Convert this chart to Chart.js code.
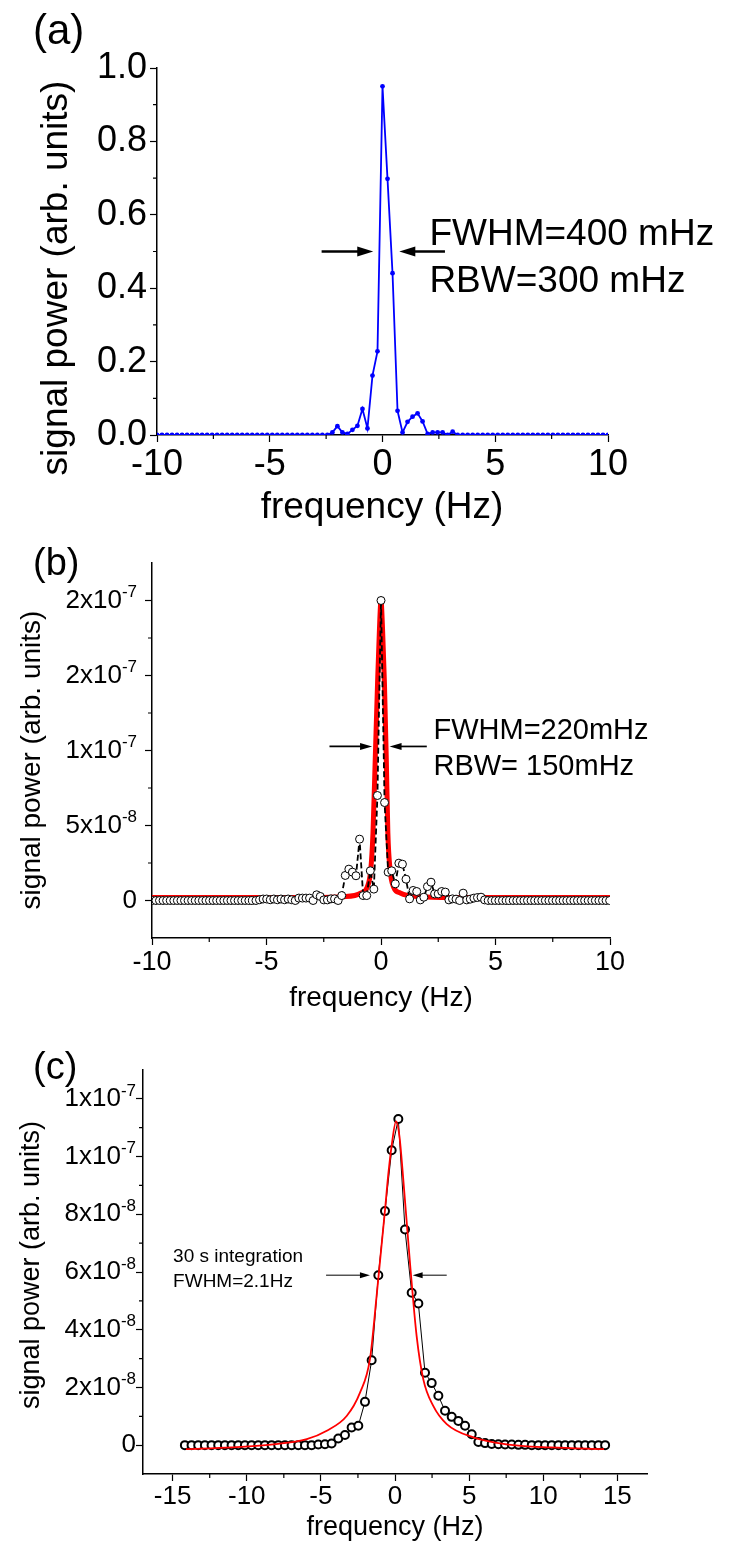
<!DOCTYPE html>
<html>
<head>
<meta charset="utf-8">
<script src="https://cdn.jsdelivr.net/npm/chart.js@4.4.0/dist/chart.umd.min.js"></script>
<style>
  html, body { margin: 0; padding: 0; background: #fff; }
  .panel { position: absolute; left: 0; width: 731px; }
  #panelA { top: 0;      height: 530px; }
  #panelB { top: 530px;  height: 500px; }
  #panelC { top: 1030px; height: 516px; }
</style>
</head>
<body>
<div class="panel" id="panelA"><canvas id="chartA"></canvas></div>
<div class="panel" id="panelB"><canvas id="chartB"></canvas></div>
<div class="panel" id="panelC"><canvas id="chartC"></canvas></div>

<script>
// ── DATA ──

// (a) spectrum, 91 bins from -10 Hz to 10 Hz
const FREQ_A_START = -10;
const FREQ_A_STEP  = 20 / 90;
const POWER_A = [
  0, 0, 0, 0, 0, 0, 0, 0, 0, 0,
  0, 0, 0, 0, 0, 0, 0, 0, 0, 0,
  0, 0, 0, 0, 0, 0, 0, 0, 0, 0,
  0, 0, 0, 0, 0,
  0.007, 0.024, 0.007, 0.003, 0.014, 0.025, 0.071, 0.018, 0.162, 0.228,
  0.950,
  0.698, 0.441, 0.066, 0.007, 0.036, 0.050, 0.059, 0.037, 0.003, 0.007,
  0.007, 0.007, 0, 0.009, 0,
  0, 0, 0, 0, 0, 0, 0, 0, 0, 0,
  0, 0, 0, 0, 0, 0, 0, 0, 0, 0,
  0, 0, 0, 0, 0, 0, 0, 0, 0, 0
];
const X_TICKS_A = [-10, -5, 0, 5, 10];
const X_MINOR_A = [-7.5, -2.5, 2.5, 7.5];
const Y_TICKS_A = [0, 0.2, 0.4, 0.6, 0.8, 1.0];
const Y_MINOR_A = [0.1, 0.3, 0.5, 0.7, 0.9];

// (b) spectrum, 129 bins, values in units of 1e-8
const FREQ_B_START = -9.984;
const FREQ_B_STEP  = 0.156;
const POWER_B = [
  0, 0, 0, 0, 0, 0, 0, 0, 0, 0,
  0, 0, 0, 0, 0, 0, 0, 0, 0, 0,
  0, 0, 0, 0, 0, 0, 0, 0, 0, 0,
  0.05, 0.1, 0.1, 0.05, 0.1, 0.05, 0.1, 0.05, 0.1, 0.05,
  0, 0.16, 0.16, 0.16, 0.16, 0, 0.38, 0.27, 0.04, 0.04,
  0.11, 0.11, 0, 0.33, 1.67, 2.09, 1.89, 1.65, 4.09, 0.33,
  0.33, 1.98, 0.76, 7.0,
  20.0,
  6.53, 1.89, 1.98, 1.11, 2.49, 2.42, 1.42, 0.11, 0.67, 0.60,
  0.04, 0.22, 0.93, 1.22, 0.44, 0.44, 0.60, 0.56, 0.04, 0.11,
  0.09, 0, 0.49, 0.04, 0.09, 0.16, 0.20, 0.22, 0.04,
  0, 0, 0, 0, 0, 0, 0, 0, 0, 0,
  0, 0, 0, 0, 0, 0, 0, 0, 0, 0,
  0, 0, 0, 0, 0, 0, 0, 0, 0, 0,
  0, 0, 0, 0, 0
];
const FIT_B_FREQ  = [-10, -3, -1.63, -0.87, -0.6, -0.45, -0.35, -0.25, -0.15, -0.07, 0, 0.07, 0.15, 0.23, 0.3, 0.4, 0.55, 0.84, 1.71, 3, 10];
const FIT_B_POWER = [0.2, 0.2, 0.25, 0.5, 0.9, 2.0, 4.5, 9.5, 14.5, 18.0, 19.95, 18.0, 14.5, 9.5, 4.5, 2.0, 0.9, 0.5, 0.25, 0.2, 0.2];
const X_TICKS_B = [-10, -5, 0, 5, 10];
const X_MINOR_B = [-7.5, -2.5, 2.5, 7.5];
const Y_TICKS_B = [0, 5e-8, 1e-7, 1.5e-7, 2e-7];
const Y_LABELS_B = [['0', ''], ['5x10', '-8'], ['1x10', '-7'], ['2x10', '-7'], ['2x10', '-7']];
const Y_MINOR_B = [2.5e-8, 7.5e-8, 1.25e-7, 1.75e-7];

// (c) spectrum, 64 bins, values in units of 1e-8
const FREQ_C_START = -14.175;
const FREQ_C_STEP  = 0.45;
const POWER_C = [
  0, 0, 0, 0, 0, 0, 0, 0, 0, 0,
  0, 0, 0, 0, 0, 0, 0, 0, 0, 0,
  0.02, 0.03, 0.06, 0.23, 0.35, 0.61, 0.67, 1.50, 2.94, 5.89,
  8.11, 10.22, 11.30, 7.47, 5.28, 4.91, 2.51, 2.15, 1.71, 1.19,
  0.98, 0.84, 0.67, 0.38, 0.11, 0.07, 0.04, 0.03, 0.02, 0.02,
  0.01, 0.01, 0, 0, 0, 0, 0, 0, 0, 0,
  0, 0, 0, 0
];
const FIT_C_FREQ  = [-14.1, -11, -8.2, -5.95, -4.6, -3.26, -2.36, -1.69, -1.24, -0.67, -0.45, -0.22, 0.07, 0.3, 0.56, 1.01, 1.46, 1.91, 2.58, 3.49, 5.28, 7.53, 10.5, 14.1];
const FIT_C_POWER = [-0.14, -0.08, 0.03, 0.21, 0.5, 1.01, 1.82, 2.98, 5.17, 8.17, 9.4, 10.4, 11.22, 10.7, 9.2, 6.32, 3.78, 2.28, 1.36, 0.73, 0.27, 0.03, -0.08, -0.14];
const X_TICKS_C = [-15, -10, -5, 0, 5, 10, 15];
const X_MINOR_C = [-12.5, -7.5, -2.5, 2.5, 7.5, 12.5];
const Y_TICKS_C = [0, 2e-8, 4e-8, 6e-8, 8e-8, 1e-7, 1.2e-7];
const Y_LABELS_C = [['0', ''], ['2x10', '-8'], ['4x10', '-8'], ['6x10', '-8'], ['8x10', '-8'], ['1x10', '-7'], ['1x10', '-7']];
const Y_MINOR_C = [1e-8, 3e-8, 5e-8, 7e-8, 9e-8, 1.1e-7];

const UNIT = 1e-8;

// ── HELPERS ──

const FONT = "'Liberation Sans', Arial, Helvetica, sans-serif";

function freqGrid(start, step, n) {
  return Array.from({ length: n }, (_, i) => start + i * step);
}

function points(xs, ys, scale) {
  return xs.map((x, i) => ({ x, y: ys[i] * scale }));
}

function drawArrow(ctx, x0, y0, x1, y1, width, head, half) {
  const dir = Math.sign(x1 - x0);
  ctx.save();
  ctx.strokeStyle = '#000';
  ctx.fillStyle = '#000';
  ctx.lineWidth = width;
  ctx.beginPath();
  ctx.moveTo(x0, y0);
  ctx.lineTo(x1 - dir * head * 0.8, y1);
  ctx.stroke();
  ctx.beginPath();
  ctx.moveTo(x1, y1);
  ctx.lineTo(x1 - dir * head, y1 - half);
  ctx.lineTo(x1 - dir * head, y1 + half);
  ctx.closePath();
  ctx.fill();
  ctx.restore();
}

// minor ticks, superscript tick labels, axis titles, panel letter, annotations
function makeDecor(d) {
  return {
    id: 'decor',
    afterDraw(chart) {
      const { ctx, chartArea: area, scales: { x, y } } = chart;
      ctx.save();
      ctx.strokeStyle = '#000';
      ctx.lineWidth = 1.2;
      ctx.beginPath();
      d.minorX.forEach(v => {
        const px = x.getPixelForValue(v);
        ctx.moveTo(px, area.bottom);
        ctx.lineTo(px, area.bottom + d.minorLen);
      });
      d.minorY.forEach(v => {
        const py = y.getPixelForValue(v);
        ctx.moveTo(area.left - d.minorLen, py);
        ctx.lineTo(area.left, py);
      });
      ctx.stroke();

      ctx.fillStyle = '#000';
      if (d.yLabels) {
        const L = d.yLabels;
        L.values.forEach((v, i) => {
          const [base, sup] = L.labels[i];
          const py = y.getPixelForValue(v);
          const right = area.left - L.gap;
          ctx.font = L.supSize + 'px ' + FONT;
          const supW = sup ? ctx.measureText(sup).width : 0;
          ctx.textBaseline = 'middle';
          ctx.textAlign = 'left';
          if (sup) ctx.fillText(sup, right - supW, py - L.supRise);
          ctx.font = L.baseSize + 'px ' + FONT;
          ctx.textAlign = 'right';
          ctx.fillText(base, right - supW, py);
        });
      }

      ctx.textAlign = 'center';
      ctx.textBaseline = 'middle';
      ctx.font = d.xTitle.size + 'px ' + FONT;
      ctx.fillText(d.xTitle.text, d.xTitle.x, d.xTitle.y);

      ctx.save();
      ctx.translate(d.yTitle.x, d.yTitle.y);
      ctx.rotate(-Math.PI / 2);
      ctx.font = d.yTitle.size + 'px ' + FONT;
      ctx.fillText(d.yTitle.text, 0, 0);
      ctx.restore();

      ctx.textAlign = 'left';
      ctx.textBaseline = 'alphabetic';
      ctx.font = d.panel.size + 'px ' + FONT;
      ctx.fillText(d.panel.text, d.panel.x, d.panel.y);

      d.arrows.forEach(a => {
        drawArrow(ctx,
          x.getPixelForValue(a.from), y.getPixelForValue(a.level),
          x.getPixelForValue(a.to),   y.getPixelForValue(a.level),
          a.width, a.head, a.half);
      });

      d.notes.forEach(n => {
        ctx.font = n.size + 'px ' + FONT;
        ctx.fillText(n.text, x.getPixelForValue(n.f), y.getPixelForValue(n.v));
      });
      ctx.restore();
    }
  };
}

function axisX(min, max, ticks, height, font, pad) {
  return {
    type: 'linear',
    min, max,
    afterBuildTicks: s => { s.ticks = ticks.map(v => ({ value: v })); },
    afterFit: s => { s.height = height; },
    ticks: { font: { family: FONT, size: font }, color: '#000', padding: pad, maxRotation: 0, autoSkip: false, callback: v => String(v) },
    grid: { drawOnChartArea: false, drawTicks: true, tickLength: 7, tickColor: '#000', tickWidth: 1.2 },
    border: { display: true, color: '#000', width: 1.5 }
  };
}

function axisY(min, max, ticks, width, labels) {
  return {
    type: 'linear',
    min, max,
    afterBuildTicks: s => { s.ticks = ticks.map(v => ({ value: v })); },
    afterFit: s => { s.width = width; },
    ticks: labels
      ? { display: true, font: { family: FONT, size: labels.size }, color: '#000', padding: labels.pad, callback: labels.fmt }
      : { display: false },
    grid: { drawOnChartArea: false, drawTicks: true, tickLength: 7, tickColor: '#000', tickWidth: 1.2 },
    border: { display: true, color: '#000', width: 1.5 }
  };
}

function baseOptions(padTop, padRight, scales) {
  return {
    responsive: true,
    maintainAspectRatio: false,
    animation: false,
    events: [],
    layout: { padding: { top: padTop, right: padRight, left: 0, bottom: 0 } },
    plugins: { legend: { display: false }, tooltip: { enabled: false } },
    scales
  };
}

// ── PANEL (a) ──

new Chart(document.getElementById('chartA'), {
  type: 'line',
  data: {
    datasets: [{
      data: points(freqGrid(FREQ_A_START, FREQ_A_STEP, POWER_A.length), POWER_A, 1),
      borderColor: '#0000ff',
      backgroundColor: '#0000ff',
      borderWidth: 1.8,
      pointRadius: 2.4,
      pointBorderWidth: 0,
      pointBackgroundColor: '#0000ff',
      tension: 0
    }]
  },
  options: baseOptions(68, 123, {
    x: axisX(-10, 10, X_TICKS_A, 95, 36, 1),
    y: axisY(0, 1.0, Y_TICKS_A, 157, { size: 36, pad: 3, fmt: v => v.toFixed(1) })
  }),
  plugins: [makeDecor({
    minorX: X_MINOR_A, minorY: Y_MINOR_A, minorLen: 4,
    xTitle: { text: 'frequency (Hz)', x: 382, y: 508, size: 37 },
    yTitle: { text: 'signal power (arb. units)', x: 57, y: 278, size: 37 },
    panel: { text: '(a)', x: 33, y: 44, size: 42 },
    arrows: [
      { from: -2.70, to: -0.41, level: 0.5, width: 2.7, head: 16, half: 5 },
      { from: 2.77, to: 0.745, level: 0.5, width: 2.7, head: 16, half: 5 }
    ],
    notes: [
      { text: 'FWHM=400 mHz', f: 2.08, v: 0.518, size: 37 },
      { text: 'RBW=300 mHz', f: 2.08, v: 0.391, size: 37 }
    ]
  })]
});

// ── PANEL (b) ──

new Chart(document.getElementById('chartB'), {
  type: 'line',
  data: {
    datasets: [{
      data: points(freqGrid(FREQ_B_START, FREQ_B_STEP, POWER_B.length), POWER_B, UNIT),
      borderColor: '#000',
      borderWidth: 1.8,
      borderDash: [6, 3],
      pointRadius: 4,
      pointBorderWidth: 1,
      pointBorderColor: '#000',
      pointBackgroundColor: '#fff',
      tension: 0,
      order: 0
    }, {
      data: points(FIT_B_FREQ, FIT_B_POWER, UNIT),
      borderColor: '#ff0000',
      borderWidth: 5,
      pointRadius: 0,
      cubicInterpolationMode: 'monotone',
      order: 1
    }]
  },
  options: baseOptions(33, 121, {
    x: axisX(-10, 10, X_TICKS_B, 92, 27, 1),
    y: axisY(-2.5e-8, 2.25e-7, Y_TICKS_B, 152, null)
  }),
  plugins: [makeDecor({
    minorX: X_MINOR_B, minorY: Y_MINOR_B, minorLen: 4,
    yLabels: { values: Y_TICKS_B, labels: Y_LABELS_B, gap: 15, baseSize: 26, supSize: 17, supRise: 8 },
    xTitle: { text: 'frequency (Hz)', x: 381, y: 468, size: 28 },
    yTitle: { text: 'signal power (arb. units)', x: 32, y: 230, size: 28 },
    panel: { text: '(b)', x: 33, y: 45, size: 38 },
    arrows: [
      { from: -2.25, to: -0.39, level: 10.27e-8, width: 1.7, head: 12, half: 3.5 },
      { from: 2.0, to: 0.375, level: 10.27e-8, width: 1.7, head: 12, half: 3.5 }
    ],
    notes: [
      { text: 'FWHM=220mHz', f: 2.29, v: 10.78e-8, size: 29 },
      { text: 'RBW= 150mHz', f: 2.29, v: 8.38e-8, size: 29 }
    ]
  })]
});

// ── PANEL (c) ──

new Chart(document.getElementById('chartC'), {
  type: 'line',
  data: {
    datasets: [{
      data: points(FIT_C_FREQ, FIT_C_POWER, UNIT),
      borderColor: '#ff0000',
      borderWidth: 1.8,
      pointRadius: 0,
      cubicInterpolationMode: 'monotone',
      order: 0
    }, {
      data: points(freqGrid(FREQ_C_START, FREQ_C_STEP, POWER_C.length), POWER_C, UNIT),
      borderColor: '#000',
      borderWidth: 1,
      pointRadius: 4,
      pointBorderWidth: 2,
      pointBorderColor: '#000',
      pointBackgroundColor: '#fff',
      tension: 0,
      order: 1
    }]
  },
  options: baseOptions(40, 84, {
    x: axisX(-17, 17, X_TICKS_C, 72, 26, 0),
    y: axisY(-1e-8, 1.3e-7, Y_TICKS_C, 143, null)
  }),
  plugins: [makeDecor({
    minorX: X_MINOR_C, minorY: Y_MINOR_C, minorLen: 4,
    yLabels: { values: Y_TICKS_C, labels: Y_LABELS_C, gap: 7, baseSize: 26, supSize: 17, supRise: 8 },
    xTitle: { text: 'frequency (Hz)', x: 395, y: 498, size: 27 },
    yTitle: { text: 'signal power (arb. units)', x: 32, y: 235, size: 27 },
    panel: { text: '(c)', x: 33, y: 49, size: 38 },
    arrows: [
      { from: -4.65, to: -1.69, level: 5.89e-8, width: 1, head: 10, half: 3 },
      { from: 3.49, to: 1.19, level: 5.89e-8, width: 1, head: 10, half: 3 }
    ],
    notes: [
      { text: '30 s integration', f: -14.97, v: 6.33e-8, size: 19 },
      { text: 'FWHM=2.1Hz', f: -14.97, v: 5.47e-8, size: 19 }
    ]
  })]
});
</script>
</body>
</html>
